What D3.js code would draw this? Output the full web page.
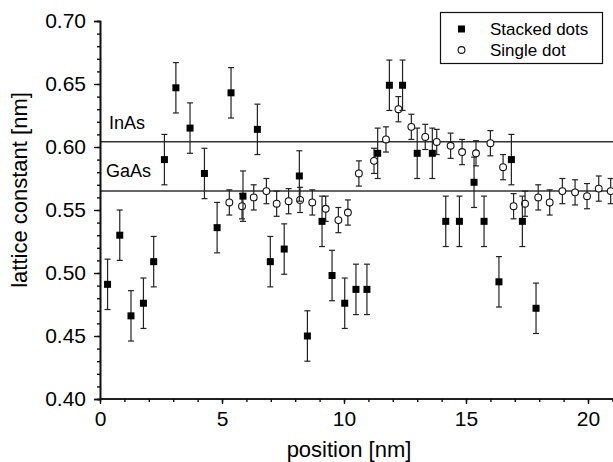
<!DOCTYPE html>
<html><head><meta charset="utf-8">
<script src="https://cdn.jsdelivr.net/npm/d3@7/dist/d3.min.js"></script>
<style>body{margin:0;background:#fff}svg{display:block}text{font-family:"Liberation Sans",Arial,sans-serif;fill:#000}</style>
</head><body><svg id="c" width="613" height="462"></svg>
<script>
const stackedX = [0.31, 0.81, 1.27, 1.78, 2.2, 2.64, 3.11, 3.69, 4.28, 4.8, 5.37, 5.86, 6.45, 6.98, 7.55, 8.17, 8.5, 9.1, 9.51, 10.03, 10.49, 10.94, 11.38, 11.86, 12.4, 13.0, 13.62, 14.17, 14.73, 15.33, 15.74, 16.35, 16.86, 17.31, 17.87];
const stackedY = [0.491, 0.530, 0.466, 0.476, 0.509, 0.590, 0.647, 0.615, 0.579, 0.536, 0.643, 0.561, 0.614, 0.509, 0.519, 0.577, 0.450, 0.541, 0.498, 0.476, 0.487, 0.487, 0.595, 0.649, 0.649, 0.595, 0.595, 0.541, 0.541, 0.572, 0.541, 0.493, 0.590, 0.541, 0.472];
const stackedErr = 0.02;
const singleX = [5.3, 5.82, 6.3, 6.82, 7.24, 7.73, 8.2, 8.7, 9.25, 9.77, 10.16, 10.61, 11.23, 11.72, 12.23, 12.76, 13.33, 13.8, 14.37, 14.84, 15.41, 16.0, 16.52, 16.95, 17.42, 17.96, 18.43, 18.95, 19.47, 19.96, 20.44, 20.93];
const singleY = [0.556, 0.553, 0.560, 0.565, 0.555, 0.557, 0.558, 0.556, 0.551, 0.542, 0.548, 0.579, 0.589, 0.606, 0.630, 0.616, 0.608, 0.604, 0.601, 0.596, 0.595, 0.603, 0.584, 0.553, 0.555, 0.560, 0.556, 0.565, 0.564, 0.561, 0.567, 0.565];
const singleErr = 0.01;
const refLines = [{label: "InAs", value: 0.6042}, {label: "GaAs", value: 0.5651}];
const xTicks = [0, 5, 10, 15, 20];
const yTicks = [0.40, 0.45, 0.50, 0.55, 0.60, 0.65, 0.70];
const seriesNames = ["Stacked dots", "Single dot"];

const svg = d3.select("#c");
const x = d3.scaleLinear().domain([0, 21]).range([100, 612.4]);
const y = d3.scaleLinear().domain([0.40, 0.70]).range([399, 21]);

// reference lines
refLines.forEach((r, i) => {
  svg.append("line").attr("x1", x(0)).attr("x2", 613)
    .attr("y1", y(r.value)).attr("y2", y(r.value))
    .attr("stroke", "#333").attr("stroke-width", 1.4);
});
svg.append("text").attr("x", 109).attr("y", 128.5).attr("font-size", 18).text(refLines[0].label);
svg.append("text").attr("x", 106).attr("y", 177).attr("font-size", 18).text(refLines[1].label);

// axes
const fmtY = d3.format(".2f");
const gy = svg.append("g").attr("transform", `translate(${x(0)},0)`);
gy.call(d3.axisLeft(y).tickValues(d3.range(0.40, 0.7001, 0.01)).tickSize(3).tickFormat(""));
const gyM = svg.append("g").attr("transform", `translate(${x(0)},0)`);
gyM.call(d3.axisLeft(y).tickValues(yTicks).tickSize(6).tickPadding(8).tickFormat(fmtY));
const gx = svg.append("g").attr("transform", `translate(0,${y(0.40)})`);
gx.call(d3.axisBottom(x).tickValues(d3.range(0, 21.01, 1)).tickSize(3).tickFormat(""));
const gxM = svg.append("g").attr("transform", `translate(0,${y(0.40)})`);
gxM.call(d3.axisBottom(x).tickValues(xTicks).tickSize(5).tickPadding(7).tickFormat(d3.format("d")));
[gy, gyM, gx, gxM].forEach(g => {
  g.selectAll("path.domain").attr("stroke", "#111").attr("stroke-width", 1.6);
  g.selectAll(".tick line").attr("stroke", "#111").attr("stroke-width", 1.4);
  g.selectAll("text").attr("font-size", 21).attr("font-family", "Liberation Sans, Arial, sans-serif").attr("fill", "#000");
});
gx.select("path.domain").attr("d", `M${x(0)},0H613`);
gxM.select("path.domain").attr("d", `M${x(0)},0H613`);

svg.append("text").attr("x", 349).attr("y", 457).attr("text-anchor", "middle").attr("font-size", 22).text("position [nm]");
svg.append("text").attr("transform", "translate(27,190) rotate(-90)").attr("text-anchor", "middle").attr("font-size", 22).text("lattice constant [nm]");

// error bars
function errBars(xs, ys, e) {
  const g = svg.append("g").attr("stroke", "#222").attr("stroke-width", 1.2).attr("fill", "none");
  xs.forEach((xv, i) => {
    const cx = x(xv), t = y(ys[i] + e), b = y(ys[i] - e);
    g.append("line").attr("x1", cx).attr("x2", cx).attr("y1", t).attr("y2", b);
    g.append("line").attr("x1", cx - 3).attr("x2", cx + 3).attr("y1", t).attr("y2", t);
    g.append("line").attr("x1", cx - 3).attr("x2", cx + 3).attr("y1", b).attr("y2", b);
  });
}
errBars(singleX, singleY, singleErr);
svg.append("g").selectAll("circle").data(singleX).join("circle")
  .attr("cx", d => x(d)).attr("cy", (d, i) => y(singleY[i])).attr("r", 3.4)
  .attr("fill", "#fff").attr("stroke", "#111").attr("stroke-width", 1.1);
errBars(stackedX, stackedY, stackedErr);
svg.append("g").selectAll("rect").data(stackedX).join("rect")
  .attr("x", d => x(d) - 3.5).attr("y", (d, i) => y(stackedY[i]) - 3.5)
  .attr("width", 7).attr("height", 7).attr("fill", "#000");

// legend
const lg = svg.append("g");
lg.append("rect").attr("x", 440.5).attr("y", 12.5).attr("width", 162).attr("height", 51)
  .attr("fill", "#fff").attr("stroke", "#111").attr("stroke-width", 1.2);
lg.append("rect").attr("x", 458).attr("y", 25.5).attr("width", 7).attr("height", 7).attr("fill", "#000");
lg.append("circle").attr("cx", 461.5).attr("cy", 50).attr("r", 3.4).attr("fill", "#fff").attr("stroke", "#111").attr("stroke-width", 1.1);
lg.append("text").attr("x", 490).attr("y", 35).attr("font-size", 17).text(seriesNames[0]);
lg.append("text").attr("x", 490).attr("y", 55.5).attr("font-size", 17).text(seriesNames[1]);
</script></body></html>
